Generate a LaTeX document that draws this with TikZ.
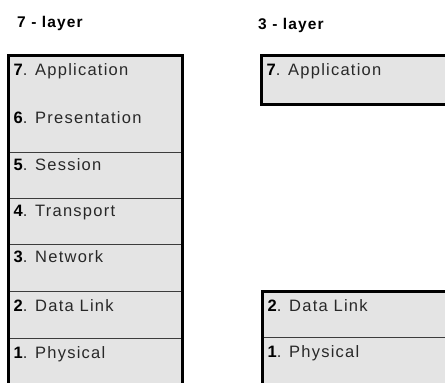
\documentclass[tikz,border=0pt]{standalone}
\usepackage{fontspec}
\setmainfont{Liberation Sans}[LetterSpace=7.5]
\definecolor{boxgray}{RGB}{228,228,228}
\definecolor{divgray}{RGB}{60,60,60}
\definecolor{txtgray}{RGB}{40,40,40}
\tikzset{
  rowbox/.style={fill=boxgray, inner sep=0pt, outer sep=0pt, anchor=north west, minimum width=#1},
  rowbox/.default=174pt,
  lbl/.style={anchor=base west, inner sep=0pt, font=\fontsize{16.5}{19}\selectfont, text=txtgray},
  ttl/.style={anchor=base west, inner sep=0pt, font=\fontsize{15.5}{18}\selectfont\bfseries},
  frame/.style={draw=black, line width=3pt},
  divider/.style={draw=divgray, line width=1pt},
}
\newcommand{\num}[1]{\textbf{\textcolor{black}{#1}}}
\begin{document}
\begin{tikzpicture}[x=1pt,y=-1pt]
\useasboundingbox (0,0) rectangle (445,383);
\clip (0,0) rectangle (445,383);
% titles
\node[ttl] (t7) at (17,27) {7 - layer};
\node[ttl] (t3) at (258,29) {3 - layer};
% left stack
\node[rowbox, minimum height=48.5pt] (l7) at (8.5,55.5) {};
\node[rowbox, minimum height=48pt] (l6) at (l7.south west) {};
\node[rowbox, minimum height=46pt] (l5) at (l6.south west) {};
\node[rowbox, minimum height=46pt] (l4) at (l5.south west) {};
\node[rowbox, minimum height=47pt] (l3) at (l4.south west) {};
\node[rowbox, minimum height=47pt] (l2) at (l3.south west) {};
\node[rowbox, minimum height=60pt] (l1) at (l2.south west) {};
\foreach \r in {l6,l5,l4,l3,l2}{
  \draw[divider] (\r.south west) -- (\r.south east);
}
\draw[frame] (l7.north west) rectangle (l1.south east);
\node[lbl] at ([xshift=5pt,yshift=-20pt]l7.north west) {\num{7}. Application};
\node[lbl] at ([xshift=5pt,yshift=-19pt]l6.north west) {\num{6}. Presentation};
\node[lbl] at ([xshift=5pt,yshift=-18pt]l5.north west) {\num{5}. Session};
\node[lbl] at ([xshift=5pt,yshift=-18pt]l4.north west) {\num{4}. Transport};
\node[lbl] at ([xshift=5pt,yshift=-18pt]l3.north west) {\num{3}. Network};
\node[lbl] at ([xshift=5pt,yshift=-20pt]l2.north west) {\num{2}. Data Link};
\node[lbl] at ([xshift=5pt,yshift=-20pt]l1.north west) {\num{1}. Physical};
% right stack
\node[rowbox=200pt, minimum height=49pt] (r7) at (261.5,55.5) {};
\draw[frame] (r7.north west) rectangle (r7.south east);
\node[lbl] at ([xshift=5pt,yshift=-20pt]r7.north west) {\num{7}. Application};
\node[rowbox=200pt, minimum height=46pt] (r2) at (262.5,291) {};
\node[rowbox=200pt, minimum height=60pt] (r1) at (r2.south west) {};
\draw[divider] (r2.south west) -- (r2.south east);
\draw[frame] (r2.north west) rectangle (r1.south east);
\node[lbl] at ([xshift=5pt,yshift=-20pt]r2.north west) {\num{2}. Data Link};
\node[lbl] at ([xshift=5pt,yshift=-20pt]r1.north west) {\num{1}. Physical};
\end{tikzpicture}
\end{document}
